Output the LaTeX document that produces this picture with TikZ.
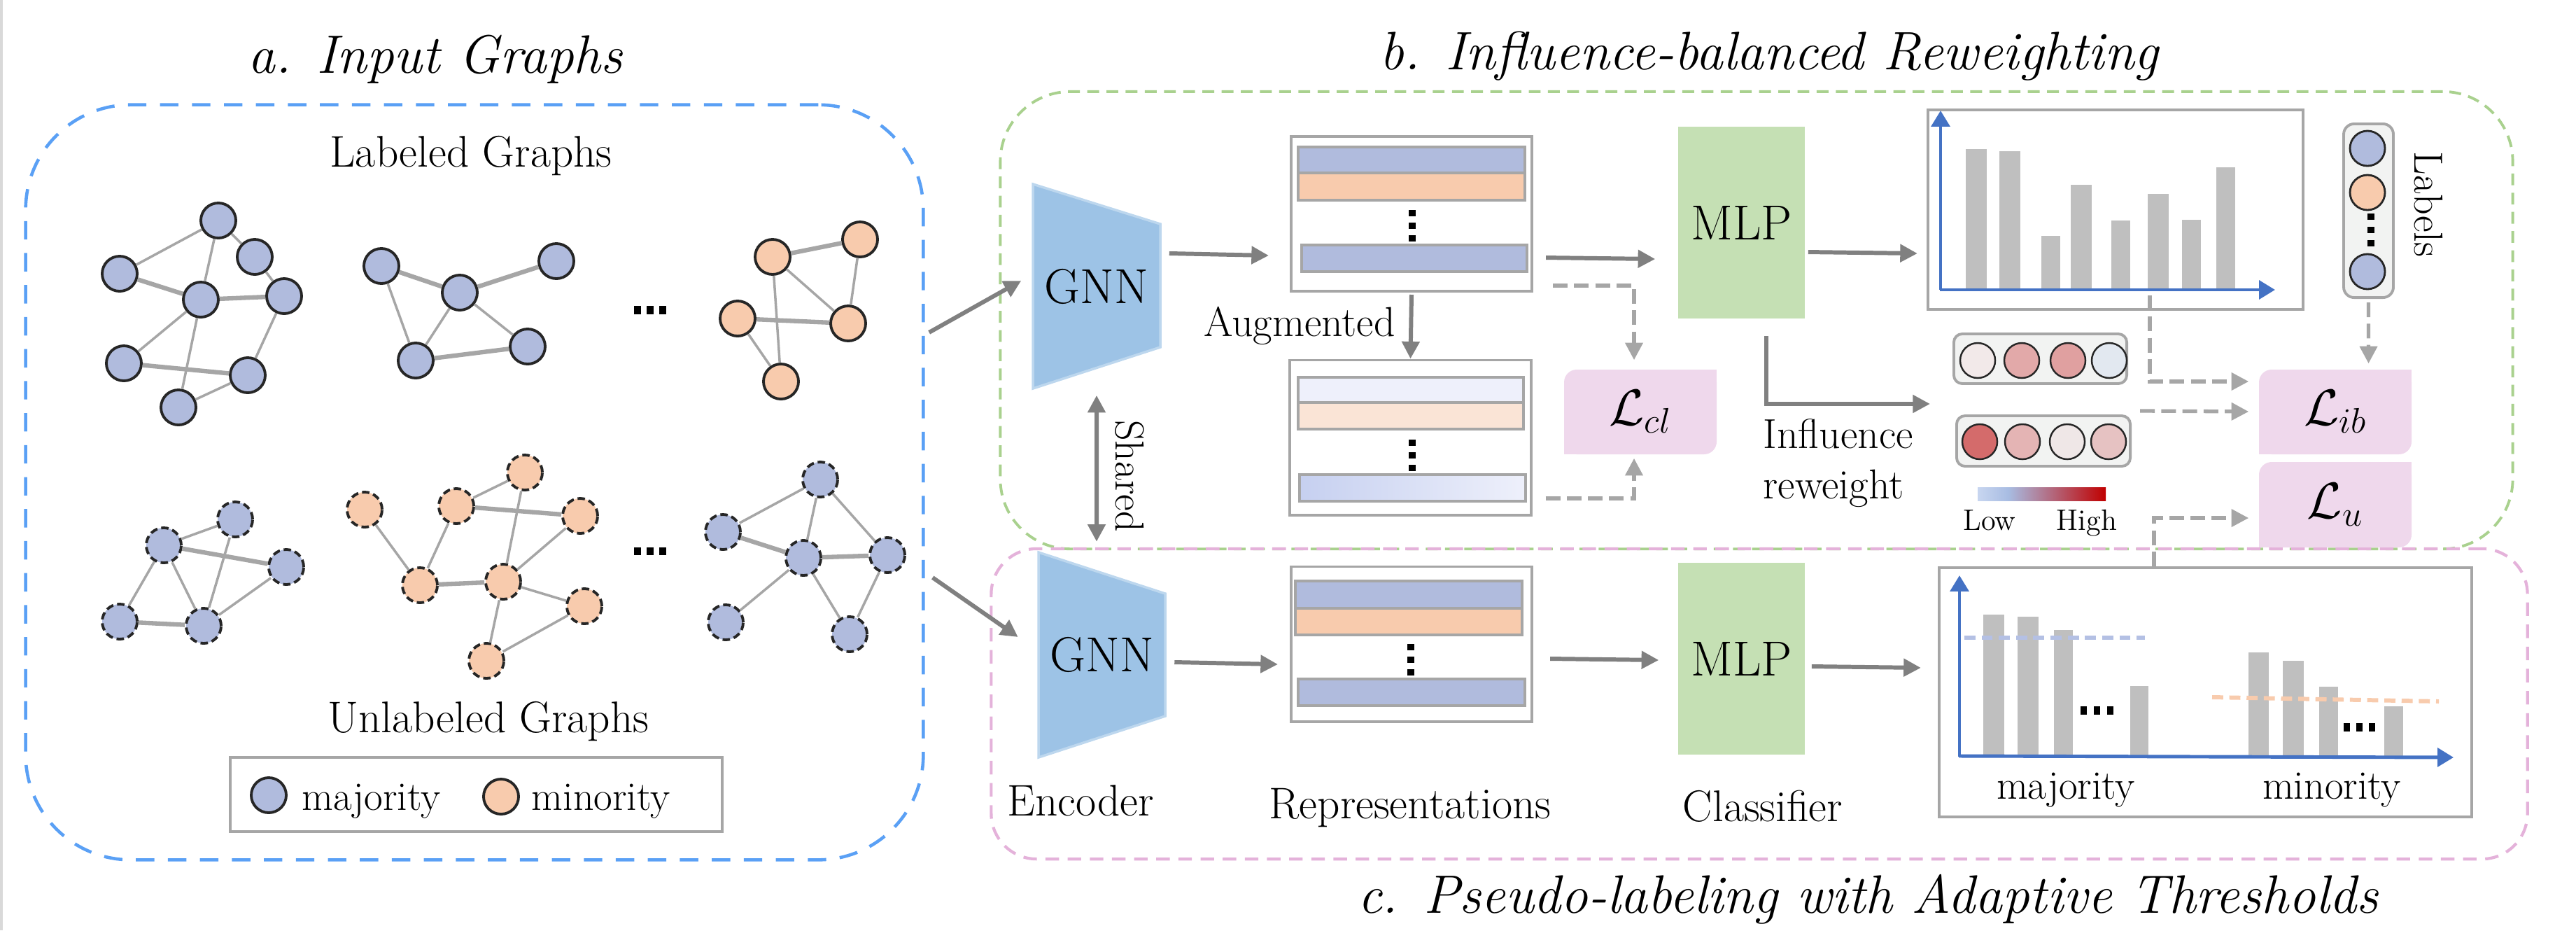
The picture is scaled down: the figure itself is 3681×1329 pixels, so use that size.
\documentclass[tikz,border=0pt]{standalone}
\usepackage{amssymb,amsmath,amsfonts}
\usepackage{xcolor}
\usepackage{tikz}
\usetikzlibrary{arrows.meta}

\definecolor{majcol}{RGB}{176,187,221}
\definecolor{mincol}{RGB}{248,203,173}
\definecolor{edgecol}{RGB}{166,166,166}
\definecolor{arrcol}{RGB}{128,128,128}
\definecolor{boxblue}{RGB}{90,160,245}
\definecolor{boxgreen}{RGB}{169,209,142}
\definecolor{boxpink}{RGB}{228,178,218}
\definecolor{gnnfill}{RGB}{157,195,230}
\definecolor{gnnline}{RGB}{189,215,238}
\definecolor{mlpfill}{RGB}{197,224,180}
\definecolor{lossfill}{RGB}{239,216,236}
\definecolor{barcol}{RGB}{191,191,191}
\definecolor{axiscol}{RGB}{68,114,196}
\definecolor{panelcol}{RGB}{242,243,242}
\definecolor{augmid}{RGB}{198,208,240}
\definecolor{auglight}{RGB}{238,240,251}
\definecolor{augorg}{RGB}{250,228,214}
\definecolor{thrblue}{RGB}{180,192,228}
\definecolor{lowcol}{RGB}{200,214,240}
\definecolor{midcol}{RGB}{168,188,226}
\definecolor{highcol}{RGB}{192,0,0}
\definecolor{wa}{RGB}{242,233,233}
\definecolor{wb}{RGB}{226,169,169}
\definecolor{wc}{RGB}{224,160,160}
\definecolor{wd}{RGB}{226,232,240}
\definecolor{we}{RGB}{212,107,107}
\definecolor{wf}{RGB}{228,180,180}
\definecolor{wg}{RGB}{239,231,231}
\definecolor{wh}{RGB}{230,194,194}
\pgfdeclarehorizontalshading{heatbar}{100bp}{color(0bp)=(lowcol); color(25bp)=(lowcol); color(37bp)=(midcol); color(75bp)=(highcol); color(100bp)=(highcol)}

\begin{document}
\begin{tikzpicture}[x=0.01cm,y=-0.01cm]
\tikzset{>={Triangle[width=7pt,length=7pt]}}
\tikzstyle{vertex}=[circle,draw=black!85,line width=1.1pt,minimum size=0.5cm,inner sep=0pt]
\tikzstyle{majv}=[vertex,fill=majcol]
\tikzstyle{minv}=[vertex,fill=mincol]
\tikzstyle{unl}=[dash pattern=on 3pt off 1.6pt]
\tikzstyle{gedge}=[draw=edgecol,line width=1pt]
\tikzstyle{gthick}=[draw=edgecol,line width=1.8pt]
\tikzstyle{arr}=[->,draw=arrcol,line width=1.7pt]
\tikzstyle{darr}=[->,draw=edgecol,line width=1.5pt,dash pattern=on 6pt off 2.6pt]
\tikzstyle{axisarr}=[-{Triangle[width=7.5pt,length=6.5pt]},draw=axiscol,line width=1.4pt]
\tikzstyle{ttl}=[font=\fontsize{22}{26}\selectfont\itshape,inner sep=0pt]
\tikzstyle{txt}=[font=\fontsize{18}{22}\selectfont,inner sep=0pt]
\tikzstyle{midtxt}=[font=\fontsize{16.5}{20}\selectfont,inner sep=0pt]
\tikzstyle{smltxt}=[font=\fontsize{12}{14}\selectfont,inner sep=0pt]
\tikzstyle{gnnbox}=[minimum width=1.82cm,minimum height=2.92cm,inner sep=0pt,font=\fontsize{20}{24}\selectfont]
\tikzstyle{repbox}=[draw=edgecol,line width=1.1pt,minimum width=3.44cm,minimum height=2.21cm,inner sep=0pt]
\tikzstyle{feat}=[draw=edgecol,line width=0.9pt]
\tikzstyle{mlpbox}=[fill=mlpfill,minimum width=1.81cm,minimum height=2.74cm,inner sep=0pt,font=\fontsize{20}{24}\selectfont]
\tikzstyle{chartbox}=[draw=edgecol,line width=1.1pt,inner sep=0pt]
\tikzstyle{losst}=[minimum width=2.18cm,minimum height=1.21cm,inner sep=0pt,font=\fontsize{22}{26}\selectfont]
\tikzstyle{panel}=[draw=edgecol,fill=panelcol,line width=1.1pt,rounded corners=0.12cm,inner sep=0pt]
\tikzstyle{icirc}=[circle,draw=black!85,line width=0.7pt,minimum size=0.5cm,inner sep=0pt]

\useasboundingbox (0,0) rectangle (3681,1329);
\draw[black!15,line width=1pt] (2,0) -- (2,1329);

\node[ttl] (ta) at (622,85) {a. Input Graphs};
\node[ttl] (tb) at (2528,80) {b. Influence-balanced Reweighting};
\node[ttl] (tc) at (2669,1285) {c. Pseudo-labeling with Adaptive Thresholds};

\node[draw=boxblue,line width=1.3pt,dash pattern=on 7.5pt off 5.5pt,rounded corners=1.5cm,minimum width=12.82cm,minimum height=10.78cm] (inbox) at (678,689) {};
\node[draw=boxgreen,line width=1.1pt,dash pattern=on 4.8pt off 3pt,rounded corners=1cm,minimum width=21.6cm,minimum height=6.53cm] (ibbox) at (2510,457.5) {};
\node[draw=boxpink,line width=1.2pt,dash pattern=on 5.5pt off 3.5pt,rounded corners=0.65cm,minimum width=21.94cm,minimum height=4.43cm] (plbox) at (2514,1005.5) {};

\node[txt] (labeled) at (673,223) {Labeled Graphs};
\node[txt] (unlabeled) at (698,1031) {Unlabeled Graphs};

\node[majv] (l1v1) at (312,315) {};
\node[majv] (l1v2) at (364,367) {};
\node[majv] (l1v3) at (171,391) {};
\node[majv] (l1v4) at (287,428) {};
\node[majv] (l1v5) at (406,423) {};
\node[majv] (l1v6) at (177,519) {};
\node[majv] (l1v7) at (354,536) {};
\node[majv] (l1v8) at (255,582) {};
\foreach \a/\b in {1/3,1/4,1/2,2/5,4/6,4/8,5/7,7/8} \draw[gedge] (l1v\a) -- (l1v\b);
\foreach \a/\b in {3/4,4/5,6/7} \draw[gthick] (l1v\a) -- (l1v\b);

\node[majv] (l2v1) at (545,380) {};
\node[majv] (l2v2) at (657,418) {};
\node[majv] (l2v3) at (795,373) {};
\node[majv] (l2v4) at (594,515) {};
\node[majv] (l2v5) at (754,495) {};
\foreach \a/\b in {1/4,2/4,2/5} \draw[gedge] (l2v\a) -- (l2v\b);
\foreach \a/\b in {1/2,2/3,4/5} \draw[gthick] (l2v\a) -- (l2v\b);

\node[minv] (l3v1) at (1104,367) {};
\node[minv] (l3v2) at (1229,342) {};
\node[minv] (l3v3) at (1054,455) {};
\node[minv] (l3v4) at (1212,462) {};
\node[minv] (l3v5) at (1116,545) {};
\foreach \a/\b in {2/4,1/4,1/5,3/5} \draw[gedge] (l3v\a) -- (l3v\b);
\foreach \a/\b in {1/2,3/4} \draw[gthick] (l3v\a) -- (l3v\b);

\node[majv,unl] (u1v1) at (234,779) {};
\node[majv,unl] (u1v2) at (336,742) {};
\node[majv,unl] (u1v3) at (409,810) {};
\node[majv,unl] (u1v4) at (171,888) {};
\node[majv,unl] (u1v5) at (291,894) {};
\foreach \a/\b in {1/2,1/4,1/5,2/5,3/5} \draw[gedge] (u1v\a) -- (u1v\b);
\foreach \a/\b in {1/3,4/5} \draw[gthick] (u1v\a) -- (u1v\b);

\node[minv,unl] (u2v1) at (521,728) {};
\node[minv,unl] (u2v2) at (652,723) {};
\node[minv,unl] (u2v3) at (750,675) {};
\node[minv,unl] (u2v4) at (829,737) {};
\node[minv,unl] (u2v5) at (600,836) {};
\node[minv,unl] (u2v6) at (719,831) {};
\node[minv,unl] (u2v7) at (835,866) {};
\node[minv,unl] (u2v8) at (695,944) {};
\foreach \a/\b in {1/5,2/3,2/5,3/6,4/6,6/7,6/8,7/8} \draw[gedge] (u2v\a) -- (u2v\b);
\foreach \a/\b in {2/4,5/6} \draw[gthick] (u2v\a) -- (u2v\b);

\node[majv,unl] (u3v1) at (1172,685) {};
\node[majv,unl] (u3v2) at (1033,760) {};
\node[majv,unl] (u3v3) at (1148,797) {};
\node[majv,unl] (u3v4) at (1268,793) {};
\node[majv,unl] (u3v5) at (1037,889) {};
\node[majv,unl] (u3v6) at (1214,906) {};
\foreach \a/\b in {1/2,1/3,1/4,3/5,3/6,4/6} \draw[gedge] (u3v\a) -- (u3v\b);
\foreach \a/\b in {2/3,3/4} \draw[gthick] (u3v\a) -- (u3v\b);

\foreach \xx in {911,929,947} {
  \fill (\xx-5,437) rectangle (\xx+5,449);
  \fill (\xx-5,782) rectangle (\xx+5,793);
}

\node[draw=edgecol,line width=1.1pt,minimum width=7.03cm,minimum height=1.06cm] (legend) at (680.5,1135) {};
\node[majv] (legmaj) at (384,1136) {};
\node[midtxt,anchor=base west] (legmajt) at (431,1157) {majority};
\node[minv] (legmin) at (716,1138) {};
\node[midtxt,anchor=base west] (legmint) at (759,1157) {minority};

\filldraw[fill=gnnfill,draw=gnnline,line width=1pt] (1476,263) -- (1658,320) -- (1658,496) -- (1476,555) -- cycle;
\node[gnnbox] (gnnT) at (1567,409) {GNN};
\filldraw[fill=gnnfill,draw=gnnline,line width=1pt] (1484,789) -- (1665,848) -- (1665,1023) -- (1484,1082) -- cycle;
\node[gnnbox] (gnnB) at (1574.5,935.5) {GNN};

\node[repbox] (repT) at (2017,305.5) {};
\filldraw[feat,fill=majcol] (1855,210) rectangle (2179,247);
\filldraw[feat,fill=mincol] (1855,247) rectangle (2179,286);
\filldraw[feat,fill=majcol] (1860,350) rectangle (2182,388);
\node[repbox] (augT) at (2015.5,625) {};
\shade[left color=auglight,middle color=augmid,right color=auglight] (1855,539) rectangle (2177,575);
\draw[feat] (1855,539) rectangle (2177,575);
\filldraw[feat,fill=augorg] (1855,575) rectangle (2177,613);
\shade[left color=augmid,right color=auglight] (1857,678) rectangle (2180,716);
\draw[feat] (1857,678) rectangle (2180,716);
\node[repbox] (repB) at (2017,920) {};
\filldraw[feat,fill=majcol] (1851,830) rectangle (2175,869);
\filldraw[feat,fill=mincol] (1851,869) rectangle (2175,907);
\filldraw[feat,fill=majcol] (1855,970) rectangle (2179,1008);
\foreach \yy in {300,318,336} \fill (2013,\yy) rectangle (2023,\yy+9);
\foreach \yy in {628,646,664} \fill (2013,\yy) rectangle (2023,\yy+9);
\foreach \yy in {920,938,956} \fill (2011,\yy) rectangle (2021,\yy+9);

\node[txt,font=\fontsize{17}{20}\selectfont,anchor=base] (augtxt) at (1857,480) {Augmented};
\node[midtxt,rotate=-90] (shared) at (1614,680) {Shared};
\node[txt,anchor=base] (enc) at (1544,1165) {Encoder};
\node[txt,anchor=base] (reps) at (2015,1169) {Representations};
\node[txt,anchor=base] (cls) at (2519,1173) {Classifier};

\node[mlpbox] (mlpT) at (2488.5,318) {MLP};
\node[mlpbox] (mlpB) at (2488.5,941) {MLP};

\node[chartbox,minimum width=5.36cm,minimum height=2.85cm] (chartT) at (3023,299.5) {};
\foreach \xa/\xb/\yt in {2809/2839/213,2857/2887/216,2917/2944/337,2959/2989/264,3017/3044/315,3069/3099/277,3118/3145/314,3167/3194/239}
  \fill[barcol] (\xa,\yt) rectangle (\xb,413);
\draw[axisarr] (2773,414) -- (2773,158);
\draw[axisarr] (2772,414) -- (3251,414);

\node[chartbox,minimum width=7.61cm,minimum height=3.56cm] (chartB) at (3151.5,989) {};
\foreach \xa/\xb/\yt in {2834/2864/878,2883/2913/881,2935/2962/900,3044/3070/980,3213/3242/932,3262/3292/944,3314/3341/981,3407/3434/1009}
  \fill[barcol] (\xa,\yt) rectangle (\xb,1080);
\draw[axisarr] (2800,1081) -- (2800,822);
\draw[axisarr] (2799,1080) -- (3506,1082);
\foreach \xx in {2977,2996,3015} \fill (\xx-4.5,1009) rectangle (\xx+4.5,1021);
\foreach \xx in {3353,3371,3389} \fill (\xx-4.5,1033) rectangle (\xx+4.5,1045);
\draw[thrblue,line width=1.7pt,dash pattern=on 4.5pt off 2.5pt] (2807,911) -- (3065,911);
\draw[mincol,line width=1.7pt,dash pattern=on 4.5pt off 2.5pt] (3161,996) -- (3485,1002);
\node[midtxt,anchor=base] (majt) at (2952,1141) {majority};
\node[midtxt,anchor=base] (mint) at (3332,1141) {minority};

\node[panel,minimum width=0.71cm,minimum height=2.48cm,rounded corners=0.15cm] (lblbox) at (3384.5,301) {};
\node[icirc,fill=majcol,line width=0.8pt] (lab1) at (3383,212) {};
\node[icirc,fill=mincol,line width=0.8pt] (lab2) at (3383,275) {};
\node[icirc,fill=majcol,line width=0.8pt] (lab3) at (3383,388) {};
\foreach \yy in {305,324,343} \fill (3383,\yy) rectangle (3393,\yy+9);
\node[midtxt,rotate=-90] (lbltxt) at (3470,292) {Labels};

\node[panel,minimum width=2.47cm,minimum height=0.71cm] (infl1) at (2915.5,512.5) {};
\foreach \cx/\cc [count=\i] in {2826/wa,2889/wb,2955/wc,3014/wd} \node[icirc,fill=\cc] (ia\i) at (\cx,515) {};
\node[panel,minimum width=2.48cm,minimum height=0.72cm] (infl2) at (2920,630) {};
\foreach \cx/\cc [count=\i] in {2829/we,2890/wf,2954/wg,3013/wh} \node[icirc,fill=\cc] (ib\i) at (\cx,631) {};
\node[txt,font=\fontsize{17}{20}\selectfont,anchor=base west] (inftxt) at (2519,640) {Influence};
\node[txt,font=\fontsize{17}{20}\selectfont,anchor=base west] (rwtxt) at (2519,712) {reweight};
\shade[shading=heatbar] (2826,696) rectangle (3009,715);
\node[smltxt,anchor=base] (low) at (2843,757) {Low};
\node[smltxt,anchor=base] (high) at (2982,757) {High};

\foreach \xa/\ya/\xb/\yb in {2235/528/2453/649,3228/528/3446/649,3228/660/3446/782} {
  \fill[lossfill,rounded corners=0.18cm] (\xa,\ya) rectangle (\xb,\yb);
  \fill[lossfill] ({(\xa+\xb)/2},\ya) rectangle (\xb,{(\ya+\yb)/2});
  \fill[lossfill] (\xa,{(\ya+\yb)/2}) rectangle ({(\xa+\xb)/2},\yb);
}
\node[losst] (lcl) at (2344,588.5) {$\mathcal{L}_{cl}$};
\node[losst] (lib) at (3337,588.5) {$\mathcal{L}_{ib}$};
\node[losst] (lu) at (3337,721) {$\mathcal{L}_{u}$};

\draw[arr] ([xshift=0.06cm,yshift=2.14cm]inbox.east) -- ([xshift=-0.16cm,yshift=0.08cm]gnnT.west);
\draw[arr] ([xshift=0.11cm,yshift=-1.36cm]inbox.east) -- ([xshift=-0.28cm,yshift=0.255cm]gnnB.west);
\draw[arr] ([xshift=0.12cm,yshift=0.47cm]gnnT.east) -- ([xshift=-0.3cm,yshift=-0.595cm]repT.west);
\draw[arr] ([xshift=0.18cm,yshift=-0.625cm]repT.east) -- ([xshift=-0.32cm,yshift=-0.52cm]mlpT.west);
\draw[arr] ([xshift=0.04cm,yshift=-0.42cm]mlpT.east) -- ([xshift=-0.13cm,yshift=-0.625cm]chartT.west);
\draw[arr] ([yshift=-0.03cm]repT.south) -- (augT.north);
\draw[arr] ([xshift=0.355cm,yshift=-0.24cm]mlpT.south) |- ([xshift=-0.36cm,yshift=0.53cm]infl2.west);
\draw[arr] ([xshift=0.12cm,yshift=-0.105cm]gnnB.east) -- ([xshift=-0.17cm,yshift=-0.29cm]repB.west);
\draw[arr] ([xshift=0.24cm,yshift=-0.21cm]repB.east) -- ([xshift=-0.27cm,yshift=-0.02cm]mlpB.west);
\draw[arr] ([xshift=0.09cm,yshift=-0.11cm]mlpB.east) -- ([xshift=-0.24cm,yshift=0.35cm]chartB.west);
\draw[arr,<->] ([yshift=-0.09cm]gnnT.south) -- ([xshift=-0.075cm,yshift=0.15cm]gnnB.north);

\draw[darr] ([xshift=0.28cm,yshift=-1.025cm]repT.east) -| ([xshift=-0.09cm,yshift=0.13cm]lcl.north);
\draw[darr] ([xshift=0.19cm,yshift=-0.87cm]augT.east) -| ([xshift=-0.09cm,yshift=-0.05cm]lcl.south);
\draw[darr] ([xshift=0.49cm,yshift=0.22cm]chartT.south) |- ([xshift=-0.14cm,yshift=0.435cm]lib.west);
\draw[darr] ([xshift=0.12cm,yshift=0.43cm]infl2.east) -- ([xshift=-0.14cm,yshift=0.005cm]lib.west);
\draw[darr] ([yshift=-0.05cm]lblbox.south) -- ([xshift=0.475cm,yshift=0.08cm]lib.north);
\draw[darr] ([xshift=-0.735cm]chartB.north) |- ([xshift=-0.14cm,yshift=-0.19cm]lu.west);
\end{tikzpicture}
\end{document}
